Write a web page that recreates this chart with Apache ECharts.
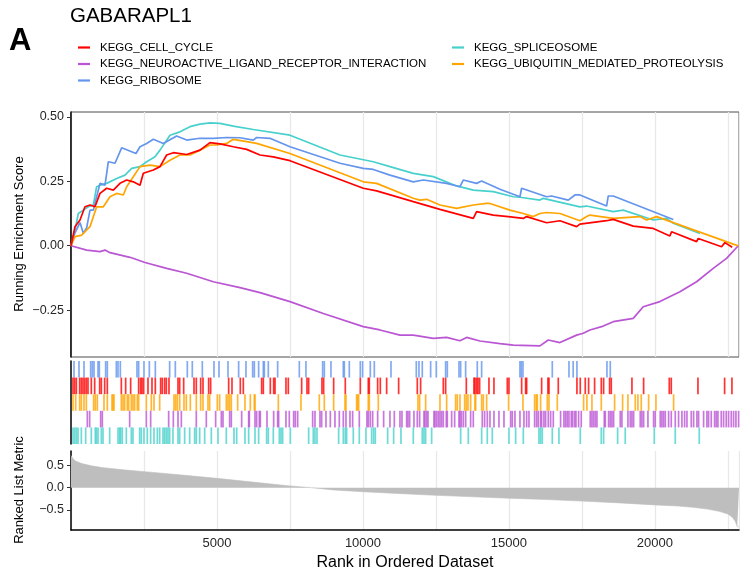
<!DOCTYPE html>
<html>
<head>
<meta charset="utf-8">
<script src="https://cdn.jsdelivr.net/npm/echarts@6/dist/echarts.min.js"></script>
<style>
  html, body { margin: 0; padding: 0; background: #fff; }
  #chart { width: 740px; height: 576px; }
</style>
</head>
<body>
<div id="chart"></div>
<script>
// ---- gene-set ranking data (rank in ordered list vs. value) ----
const rankMax = 22880;

const setNames = [
  'KEGG_CELL_CYCLE',
  'KEGG_NEUROACTIVE_LIGAND_RECEPTOR_INTERACTION',
  'KEGG_RIBOSOME',
  'KEGG_SPLICEOSOME',
  'KEGG_UBIQUITIN_MEDIATED_PROTEOLYSIS'
];

// Running enrichment score, one rank/score pair of arrays per gene set
const esRankCellCycle = [0,137,308,479,651,822,993,1221,1450,1678,1906,2135,2363,2477,2820,3048,3276,3505,3961,4418,4760,5103,5559,6016,6473,6929,7500,10011,10468,11724,12637,13779,13893,14463,14977,15034,15491,15605,16290,16747,17317,17432,18345,18573,19258,19943,20514,20571,21427,21484,22283,22397,22648];
const esScoreCellCycle = [0,0.074,0.100,0.151,0.158,0.151,0.203,0.223,0.216,0.242,0.255,0.248,0.235,0.281,0.294,0.307,0.352,0.361,0.354,0.371,0.400,0.395,0.384,0.374,0.352,0.345,0.330,0.223,0.213,0.171,0.141,0.106,0.132,0.119,0.113,0.119,0.106,0.113,0.089,0.097,0.074,0.084,0.097,0.102,0.076,0.067,0.038,0.054,0.016,0.028,-0.004,0.012,-0.006];

const esRankNeuro = [0,537,993,1164,1336,2021,2534,3276,3961,4874,5788,6473,7500,8642,10011,10582,11267,11724,12409,12865,13322,13550,14007,14692,15148,16062,16347,16747,17317,17546,17774,18231,18573,19258,19600,20171,20856,21427,21997,22454,22854];
const esScoreNeuro = [0,-0.017,-0.023,-0.017,-0.027,-0.045,-0.065,-0.088,-0.107,-0.140,-0.163,-0.182,-0.217,-0.263,-0.314,-0.327,-0.347,-0.347,-0.360,-0.356,-0.369,-0.356,-0.370,-0.380,-0.386,-0.389,-0.366,-0.376,-0.347,-0.340,-0.327,-0.312,-0.295,-0.282,-0.237,-0.217,-0.179,-0.140,-0.088,-0.049,0];

const esRankRibosome = [0,137,308,422,537,651,765,993,1164,1279,1507,1735,2226,2363,2591,2820,3162,3619,3961,4418,4874,5331,5788,6244,6358,6815,7500,9212,10011,10354,10925,11724,12066,12865,13322,13436,13893,14064,14692,15377,15434,16290,16461,17032,17089,17260,17432,18345,18402,18573,20628];
const esScoreRibosome = [0,0.050,0.090,0.048,0.070,0.138,0.138,0.242,0.235,0.326,0.320,0.380,0.358,0.384,0.397,0.413,0.397,0.426,0.410,0.417,0.417,0.420,0.419,0.410,0.420,0.417,0.384,0.320,0.300,0.296,0.274,0.248,0.255,0.242,0.229,0.255,0.242,0.251,0.219,0.190,0.223,0.190,0.193,0.177,0.184,0.197,0.197,0.154,0.193,0.193,0.102];

const esRankSpliceosome = [0,137,251,422,594,765,879,993,1221,1564,1849,2078,2363,2591,2877,3048,3390,3733,4075,4418,4760,5103,5559,6244,7500,9212,10354,10925,11724,12409,13208,13779,14463,15148,15377,16062,16176,17432,17660,18573,18916,19943,20400,20628,21541];
const esScoreSpliceosome = [0,0.061,0.125,0.138,0.151,0.158,0.229,0.235,0.242,0.261,0.274,0.300,0.307,0.326,0.345,0.371,0.429,0.442,0.462,0.472,0.477,0.475,0.464,0.451,0.429,0.352,0.326,0.307,0.281,0.268,0.232,0.216,0.210,0.190,0.188,0.177,0.184,0.151,0.154,0.132,0.138,0.100,0.106,0.087,0.048];

const esRankUbiquitin = [0,137,365,651,879,1107,1336,1564,1792,1906,2135,2363,2705,3048,3390,3733,4075,4418,4760,4989,5331,5559,6016,6358,7500,10011,10468,11724,11952,12180,12637,13208,13779,14235,14349,15034,15491,15834,16062,16290,16747,17432,17660,17774,18573,19486,19715,20057,22683,22854];
const esScoreUbiquitin = [0,0.035,0.041,0.074,0.151,0.151,0.190,0.203,0.197,0.229,0.268,0.307,0.313,0.307,0.332,0.352,0.352,0.371,0.391,0.391,0.397,0.413,0.404,0.397,0.358,0.248,0.242,0.184,0.177,0.180,0.158,0.145,0.158,0.164,0.164,0.138,0.125,0.113,0.125,0.129,0.125,0.097,0.113,0.119,0.106,0.113,0.100,0.113,0.006,0];

// Positions of gene-set members in the ranked list
const hitsRibosome = [103,274,445,674,731,788,925,970,1187,1244,1553,1610,1690,2260,2317,2500,2683,2888,3379,3573,3984,4155,4498,4897,5069,5377,5742,5993,6222,6279,6427,6587,6621,6758,7078,7820,8048,8619,8676,8904,9327,9361,9532,9909,9989,10252,10389,10960,11827,11918,12032,12318,12512,12832,12889,13289,13346,13517,13916,14065,15377,15423,15480,16485,17056,17200,17329,18357,18471];
const hitsCellCycle = [68,126,183,297,354,411,468,525,582,696,811,982,1039,1153,1244,1724,1872,2043,2317,2386,2432,2489,2637,2774,2888,3071,3128,3208,3265,3356,3665,3722,3859,4213,4292,4441,4521,4715,4783,5400,5514,5799,5902,6530,6587,6827,6941,6987,7363,7443,7900,8083,8140,8596,8653,8996,9395,9909,10183,10217,10503,10594,10811,11222,11861,11975,12752,12832,13540,13802,13837,13894,13939,13996,14316,14487,14944,15001,15435,15572,15606,16120,16336,16371,16690,17329,17443,17614,17729,17934,18163,18243,18448,18505,19213,19613,20492,20560,21474,22387,22638];
const hitsUbiquitin = [68,160,297,354,445,525,776,833,902,1130,1244,1404,1438,1473,1724,1781,1838,1929,1975,2066,2123,2180,2272,2317,2580,2751,2843,3037,3528,3585,3642,3722,3870,3950,4087,4292,4441,4521,4692,4749,5012,5092,5320,5377,5434,5491,5708,5959,6142,6279,6302,7101,7877,8505,8676,8996,9384,9418,9783,9818,9852,10183,10217,10525,11884,11941,12147,12638,12866,13174,13231,13323,13483,13540,13597,13688,13837,13860,14065,14122,14236,14989,15480,15880,15937,15971,16085,16314,16371,16656,17557,17671,17843,18163,18619,18893,19076,19327,19418,19532,19784,20035,20640];
const hitsNeuro = [559,639,1016,1073,2009,2580,2728,3345,3505,3665,3779,4292,4635,4954,5149,5206,5434,5491,5845,6085,6108,6302,6359,6450,6484,6713,6941,7078,7112,7363,7477,7626,7683,7763,8277,8356,8528,8585,8733,8882,9041,9190,9327,9418,9555,9646,9875,10137,10183,10252,10332,10503,10708,10925,11074,11268,11336,11496,11542,11599,11747,11861,11941,12090,12124,12181,12227,12432,12466,12523,12581,12638,12695,12752,12855,12889,13037,13140,13289,13323,13369,13437,13517,13688,13779,14087,14167,14259,14350,14487,14658,14830,15058,15115,15206,15377,15514,15606,15686,15880,15948,16005,16085,16120,16199,16256,16348,16428,16519,16770,16884,16941,16998,17056,17136,17181,17249,17295,17386,17477,17786,17843,17900,17957,18014,18266,18300,18414,18471,18528,18585,18813,18870,19076,19156,19213,19270,19498,19555,19613,19761,19955,20012,20183,20240,20297,20355,20469,20560,20697,20811,20925,21017,21097,21245,21325,21439,21496,21667,21781,21838,21930,22044,22101,22158,22272,22352,22443,22523,22615,22695,22775,22866];
const hitsSpliceosome = [68,126,183,240,354,502,696,833,868,925,1039,1096,1324,1610,1667,1701,1758,1895,2066,2123,2352,2409,2500,2614,2728,2843,2957,3037,3151,3208,3265,3322,3379,3493,3665,3722,3893,4064,4235,4292,4407,4578,4806,5034,5320,5582,5674,5959,6085,6302,6427,6701,6758,6929,7135,7192,7249,7512,8140,8299,8356,8425,9167,9327,9395,9441,9669,9875,10103,10297,10366,10423,10845,11051,11302,11724,12032,12090,12147,12352,13346,13608,14065,14259,14430,15001,15229,15492,16028,16085,16142,16485,16713,17443,18163,18243,18722,18984,19978,20697,21519];

// Ranked list metric (sampled along the ordered list)
const metricRank = [0,60,150,370,700,1100,1800,2520,3700,5000,6300,7500,8240,9000,10000,11200,12500,13800,15000,16300,17500,18800,20000,20800,21300,21800,22200,22500,22650,22750,22820,22880];
const metricValue = [0.72,0.66,0.60,0.54,0.49,0.45,0.40,0.36,0.29,0.21,0.12,0.04,0.0,-0.05,-0.09,-0.13,-0.17,-0.205,-0.235,-0.265,-0.30,-0.34,-0.385,-0.41,-0.44,-0.48,-0.53,-0.59,-0.66,-0.75,-0.87,-0.88];

// Axis tick values
const esTicks = [-0.25, 0, 0.25, 0.5];
const metricTicks = [-0.5, 0, 0.5];
const rankTickStep = 2500;

// ---- styling ----
const FONT = '"Liberation Sans", Arial, Helvetica, sans-serif';
const setColors = {
  KEGG_CELL_CYCLE: '#FF0000',
  KEGG_NEUROACTIVE_LIGAND_RECEPTOR_INTERACTION: '#BA55D3',
  KEGG_RIBOSOME: '#6495ED',
  KEGG_SPLICEOSOME: '#48D1CC',
  KEGG_UBIQUITIN_MEDIATED_PROTEOLYSIS: '#FFA500'
};
// rug rows, top to bottom
const rugRows = ['KEGG_RIBOSOME', 'KEGG_CELL_CYCLE', 'KEGG_UBIQUITIN_MEDIATED_PROTEOLYSIS',
                 'KEGG_NEUROACTIVE_LIGAND_RECEPTOR_INTERACTION', 'KEGG_SPLICEOSOME'];
const rugHits = {
  KEGG_RIBOSOME: hitsRibosome,
  KEGG_CELL_CYCLE: hitsCellCycle,
  KEGG_UBIQUITIN_MEDIATED_PROTEOLYSIS: hitsUbiquitin,
  KEGG_NEUROACTIVE_LIGAND_RECEPTOR_INTERACTION: hitsNeuro,
  KEGG_SPLICEOSOME: hitsSpliceosome
};
const esCurves = {
  KEGG_CELL_CYCLE: [esRankCellCycle, esScoreCellCycle],
  KEGG_NEUROACTIVE_LIGAND_RECEPTOR_INTERACTION: [esRankNeuro, esScoreNeuro],
  KEGG_RIBOSOME: [esRankRibosome, esScoreRibosome],
  KEGG_SPLICEOSOME: [esRankSpliceosome, esScoreSpliceosome],
  KEGG_UBIQUITIN_MEDIATED_PROTEOLYSIS: [esRankUbiquitin, esScoreUbiquitin]
};

const pair = (xs, ys) => xs.map((x, i) => [x, ys[i]]);
const minus = s => s.replace('-', '\u2212');

const gridLineStyle = { color: '#e8e8e8', width: 1.3 };
const axisLabelStyle = { color: '#262626', fontSize: 12.5, fontFamily: FONT };

const series = [];

// running enrichment score curves
['KEGG_NEUROACTIVE_LIGAND_RECEPTOR_INTERACTION', 'KEGG_SPLICEOSOME', 'KEGG_RIBOSOME',
 'KEGG_UBIQUITIN_MEDIATED_PROTEOLYSIS', 'KEGG_CELL_CYCLE'].forEach(name => {
  const [r, s] = esCurves[name];
  series.push({
    type: 'line', name: name, xAxisIndex: 0, yAxisIndex: 0,
    data: pair(r, s), symbol: 'none', showSymbol: false,
    color: setColors[name],
    lineStyle: { width: 1.7, color: setColors[name] },
    z: 3
  });
});

// hit positions drawn as vertical ticks, one row per gene set
rugRows.forEach((name, row) => {
  series.push({
    type: 'custom', name: 'hits ' + name, xAxisIndex: 1, yAxisIndex: 1,
    color: setColors[name],
    data: rugHits[name].map(v => [v, row]),
    renderItem: (params, api) => {
      const p = api.coord([api.value(0), api.value(1)]);
      const h = api.size([0, 1])[1];
      return {
        type: 'line',
        shape: { x1: p[0], y1: p[1] - h / 2, x2: p[0], y2: p[1] + h / 2 },
        style: { stroke: setColors[name], lineWidth: 1.7, opacity: 0.8 }
      };
    }
  });
});

// ranked list metric as a filled profile
series.push({
  type: 'line', name: 'metric', xAxisIndex: 2, yAxisIndex: 2,
  data: pair(metricRank, metricValue), symbol: 'none', showSymbol: false,
  lineStyle: { width: 0.6, color: '#bebebe' },
  areaStyle: { color: '#bebebe', opacity: 1, origin: 0 },
  z: 2
});

const legendCommon = {
  orient: 'vertical', icon: 'rect', itemWidth: 12, itemHeight: 2.2, itemGap: 2.5,
  selectedMode: false,
  textStyle: { fontSize: 11.5, fontFamily: FONT, color: '#000', lineHeight: 14, padding: [0, 0, 0, 5] }
};

const option = {
  animation: false,
  backgroundColor: '#fff',
  legend: [
    Object.assign({ left: 73, top: 35.5, data: ['KEGG_CELL_CYCLE', 'KEGG_NEUROACTIVE_LIGAND_RECEPTOR_INTERACTION', 'KEGG_RIBOSOME'] }, legendCommon),
    Object.assign({ left: 447, top: 35.5, data: ['KEGG_SPLICEOSOME', 'KEGG_UBIQUITIN_MEDIATED_PROTEOLYSIS'] }, legendCommon)
  ],
  grid: [
    { left: 71, top: 112, width: 668, height: 245, show: true, borderColor: '#4d4d4d', borderWidth: 1, backgroundColor: 'transparent', outerBoundsMode: 'none' },
    { left: 71, top: 361, width: 668, height: 83, outerBoundsMode: 'none' },
    { left: 71, top: 451, width: 668, height: 79, outerBoundsMode: 'none' }
  ],
  xAxis: [
    { gridIndex: 0, type: 'value', min: 0, max: rankMax, interval: rankTickStep,
      axisLine: { show: false }, axisTick: { show: false }, axisLabel: { show: false },
      splitLine: { show: true, lineStyle: gridLineStyle } },
    { gridIndex: 1, type: 'value', min: 0, max: rankMax, show: false },
    { gridIndex: 2, type: 'value', min: 0, max: rankMax, interval: rankTickStep,
      axisLine: { show: true, onZero: false, lineStyle: { color: '#000', width: 1.5 } },
      axisTick: { show: false },
      axisLabel: { margin: 7, fontSize: 13, color: '#262626', fontFamily: FONT,
        formatter: v => (v > 0 && v % 5000 === 0) ? String(v) : '' },
      splitLine: { show: true, lineStyle: gridLineStyle } }
  ],
  yAxis: [
    { gridIndex: 0, type: 'value', min: -0.432, max: 0.519,
      axisLine: { show: true, lineStyle: { color: '#000', width: 1.5 } },
      axisTick: { show: true, length: 4, customValues: esTicks, lineStyle: { color: '#333' } },
      axisLabel: Object.assign({ margin: 7, customValues: esTicks, formatter: v => minus(v.toFixed(2)) }, axisLabelStyle),
      splitLine: { show: false } },
    { gridIndex: 1, type: 'category', data: rugRows, inverse: true,
      axisLine: { show: true, lineStyle: { color: '#000', width: 1.5 } },
      axisTick: { show: false }, axisLabel: { show: false }, splitLine: { show: false } },
    { gridIndex: 2, type: 'value', min: -0.948, max: 0.823,
      axisLine: { show: true, lineStyle: { color: '#000', width: 1.5 } },
      axisTick: { show: true, length: 4, customValues: metricTicks, lineStyle: { color: '#333' } },
      axisLabel: Object.assign({ margin: 7, customValues: metricTicks, formatter: v => minus(v.toFixed(1)) }, axisLabelStyle),
      splitLine: { show: false } }
  ],
  graphic: [
    { type: 'text', x: 70, y: 16, style: { text: 'GABARAPL1', font: '20.5px ' + FONT, fill: '#000', textVerticalAlign: 'middle' } },
    { type: 'text', x: 9, y: 41, style: { text: 'A', font: 'bold 31px ' + FONT, fill: '#000', textVerticalAlign: 'middle' } },
    { type: 'text', x: 19, y: 234, rotation: Math.PI / 2,
      style: { text: 'Running Enrichment Score', font: '13px ' + FONT, fill: '#000', textAlign: 'center', textVerticalAlign: 'middle' } },
    { type: 'text', x: 19, y: 490, rotation: Math.PI / 2,
      style: { text: 'Ranked List Metric', font: '13px ' + FONT, fill: '#000', textAlign: 'center', textVerticalAlign: 'middle' } },
    { type: 'text', x: 405, y: 563,
      style: { text: 'Rank in Ordered Dataset', font: '16px ' + FONT, fill: '#000', textAlign: 'center', textVerticalAlign: 'middle' } }
  ],
  series: series
};

const chart = echarts.init(document.getElementById('chart'));
chart.setOption(option);
</script>
</body>
</html>
